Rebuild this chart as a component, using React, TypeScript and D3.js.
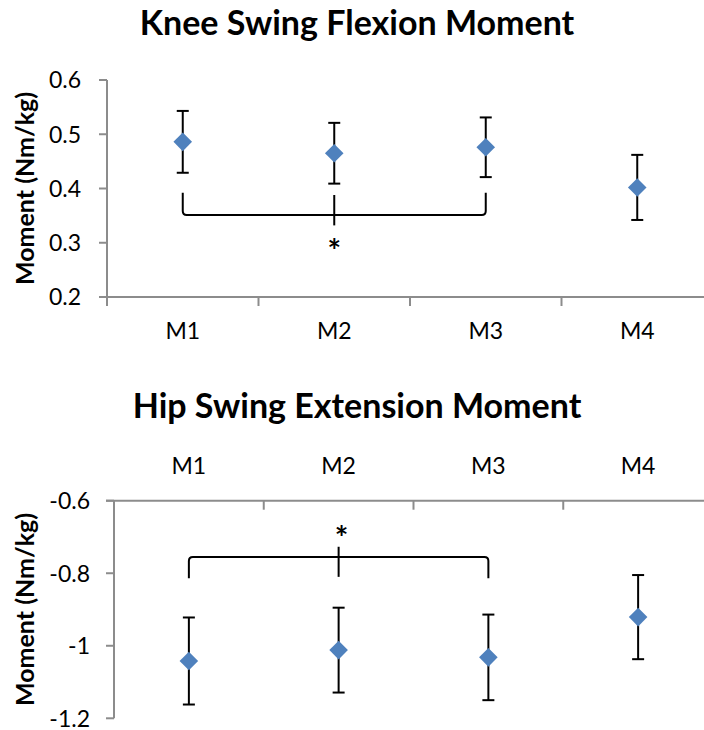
import React from "react";
import * as d3 from "d3";

// Categories and series values
const categories = ["M1", "M2", "M3", "M4"];

const kneeMean = [0.486, 0.465, 0.476, 0.402];
const kneeSD = [0.057, 0.056, 0.055, 0.06];
const kneeTicks = [0.2, 0.3, 0.4, 0.5, 0.6];
const kneeTickLabels = ["0.2", "0.3", "0.4", "0.5", "0.6"];

const hipMean = [-1.042, -1.012, -1.032, -0.921];
const hipSD = [0.12, 0.117, 0.118, 0.116];
const hipTicks = [-1.2, -1.0, -0.8, -0.6];
const hipTickLabels = ["-1.2", "-1", "-0.8", "-0.6"];

// Significance brackets: categories joined, arm end, bar level, mid tick span, star level
const kneeBracket = { from: 0, to: 2, mid: 1, arm: 0.392, bar: 0.351, tick0: 0.388, tick1: 0.332, star: 0.296 };
const hipBracket = { from: 0, to: 2, mid: 1, arm: -0.814, bar: -0.755, tick0: -0.727, tick1: -0.81, star: -0.685 };

const FONT = "Lato, 'Open Sans', sans-serif";
const BLUE = "#4F81BD";
const AXIS = "#8C8C8C";

type PanelProps = {
  title: string;
  titleY: number;
  mean: number[];
  sd: number[];
  ticks: number[];
  tickLabels: string[];
  domain: [number, number];
  yRange: [number, number];
  xRange: [number, number];
  axisOnTop: boolean;
  catLabelY: number;
  tickLabelX: number;
  bracket: typeof kneeBracket;
  starDx: number;
};

function Panel(p: PanelProps) {
  const x = d3.scaleBand<string>().domain(categories).range(p.xRange);
  const y = d3.scaleLinear().domain(p.domain).range(p.yRange);
  const cx = (i: number) => (x(categories[i]) as number) + x.bandwidth() / 2;
  const axisY = p.axisOnTop ? y(p.domain[1]) : y(p.domain[0]);
  const x0 = p.xRange[0];
  const bounds = [...categories.map((c) => x(c) as number), p.xRange[1]];
  const b = p.bracket;
  const r = 4;
  const xl = cx(b.from);
  const xr = cx(b.to);
  const yArm = y(b.arm);
  const yBar = y(b.bar);
  const dir = yBar > yArm ? 1 : -1;
  const bracketPath = [
    `M${xl},${yArm}`,
    `L${xl},${yBar - dir * r}`,
    `Q${xl},${yBar} ${xl + r},${yBar}`,
    `L${xr - r},${yBar}`,
    `Q${xr},${yBar} ${xr},${yBar - dir * r}`,
    `L${xr},${yArm}`,
  ].join(" ");
  const diamond = d3.symbol().type(d3.symbolDiamond2).size(220)();
  const yMid = (p.yRange[0] + p.yRange[1]) / 2;

  return (
    <g fontFamily={FONT}>
      <text x={357} y={p.titleY} textAnchor="middle" fontWeight={700} fontSize={34} fill="#000">
        {p.title}
      </text>
      <text
        transform={`translate(34,${yMid}) rotate(-90)`}
        textAnchor="middle"
        fontWeight={700}
        fontSize={25}
        fill="#000"
      >
        Moment (Nm/kg)
      </text>
      {/* y axis */}
      <line x1={x0} x2={x0} y1={p.yRange[1]} y2={p.yRange[0]} stroke={AXIS} strokeWidth={2} />
      {p.ticks.map((t, i) => (
        <g key={t}>
          <line x1={x0 - 8} x2={x0} y1={y(t)} y2={y(t)} stroke={AXIS} strokeWidth={2} />
          <text x={p.tickLabelX} y={y(t)} dy="0.36em" textAnchor="end" fontSize={23} fill="#000">
            {p.tickLabels[i]}
          </text>
        </g>
      ))}
      {/* x axis */}
      <line x1={x0 - 8} x2={p.xRange[1]} y1={axisY} y2={axisY} stroke={AXIS} strokeWidth={2} />
      {bounds.map((bx, i) => (
        <line key={i} x1={bx} x2={bx} y1={axisY} y2={axisY + 9} stroke={AXIS} strokeWidth={2} />
      ))}
      {categories.map((c, i) => (
        <text key={c} x={cx(i)} y={p.catLabelY} textAnchor="middle" fontSize={23} fill="#000">
          {c}
        </text>
      ))}
      {/* error bars and means */}
      {p.mean.map((m, i) => (
        <g key={i}>
          <line x1={cx(i)} x2={cx(i)} y1={y(m + p.sd[i])} y2={y(m - p.sd[i])} stroke="#000" strokeWidth={2} />
          <line x1={cx(i) - 6} x2={cx(i) + 6} y1={y(m + p.sd[i])} y2={y(m + p.sd[i])} stroke="#000" strokeWidth={2} />
          <line x1={cx(i) - 6} x2={cx(i) + 6} y1={y(m - p.sd[i])} y2={y(m - p.sd[i])} stroke="#000" strokeWidth={2} />
          <path d={diamond as string} transform={`translate(${cx(i)},${y(m)})`} fill={BLUE} />
        </g>
      ))}
      {/* significance bracket */}
      <path d={bracketPath} fill="none" stroke="#000" strokeWidth={2} />
      <line x1={cx(b.mid)} x2={cx(b.mid)} y1={y(b.tick0)} y2={y(b.tick1)} stroke="#000" strokeWidth={2} />
      <text x={cx(b.mid) + p.starDx} y={y(b.star)} dy="0.58em" textAnchor="middle" fontSize={32} fontWeight={700} fill="#000">
        *
      </text>
    </g>
  );
}

export default function App() {
  return (
    <svg
      width={704}
      height={730}
      viewBox="0 0 704 730"
      style={{ position: "absolute", left: 0, top: 0, background: "#fff" }}
    >
      <rect width={704} height={730} fill="#fff" />
      <Panel
        title="Knee Swing Flexion Moment"
        titleY={35}
        mean={kneeMean}
        sd={kneeSD}
        ticks={kneeTicks}
        tickLabels={kneeTickLabels}
        domain={[0.2, 0.6]}
        yRange={[297, 80]}
        xRange={[107, 713]}
        axisOnTop={false}
        catLabelY={339}
        tickLabelX={81}
        bracket={kneeBracket}
        starDx={0}
      />
      <Panel
        title="Hip Swing Extension Moment"
        titleY={418}
        mean={hipMean}
        sd={hipSD}
        ticks={hipTicks}
        tickLabels={hipTickLabels}
        domain={[-1.2, -0.6]}
        yRange={[718.3, 500.7]}
        xRange={[114, 713]}
        axisOnTop={true}
        catLabelY={474}
        tickLabelX={90}
        bracket={hipBracket}
        starDx={3}
      />
    </svg>
  );
}
